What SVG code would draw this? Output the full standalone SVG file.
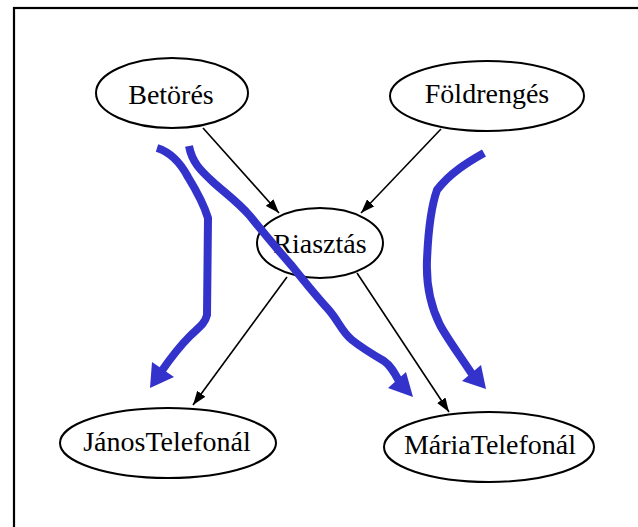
<svg xmlns="http://www.w3.org/2000/svg" width="638" height="527" viewBox="0 0 638 527">
  <style>
    .node ellipse { fill: #ffffff; stroke: #000000; stroke-width: 2; }
    .node text { font-family: "Liberation Serif", "Times New Roman", serif; font-size: 28px; fill: #000000; text-anchor: middle; }
    .edge { fill: none; stroke: #000000; stroke-width: 1.6; }
    .flow { fill: none; stroke: #3333cc; stroke-width: 8; stroke-linecap: butt; stroke-linejoin: round; }
    .flowhead { fill: #3333cc; }
  </style>
  <defs>
    <marker id="arrow" viewBox="0 0 14 10" refX="14" refY="5" markerWidth="14" markerHeight="10" markerUnits="userSpaceOnUse" orient="auto">
      <path d="M0,0 L14,5 L0,10 z" fill="#000000"/>
    </marker>
  </defs>

  <rect width="638" height="527" fill="#ffffff"/>
  <!-- frame -->
  <rect x="14" y="8" width="700" height="600" fill="none" stroke="#000000" stroke-width="2.2"/>

  <!-- connectors -->
  <g id="edges">
    <line class="edge" x1="203" y1="128" x2="279" y2="213" marker-end="url(#arrow)"/>
    <line class="edge" x1="441" y1="129" x2="361" y2="213" marker-end="url(#arrow)"/>
    <line class="edge" x1="287" y1="277" x2="193" y2="405" marker-end="url(#arrow)"/>
    <line class="edge" x1="357" y1="273" x2="449" y2="412" marker-end="url(#arrow)"/>
  </g>

  <!-- nodes -->
  <g id="betores" class="node">
    <ellipse cx="172" cy="93" rx="76" ry="35"/>
    <text x="171" y="104">Betörés</text>
  </g>
  <g id="foldrenges" class="node">
    <ellipse cx="487" cy="96" rx="97" ry="35"/>
    <text x="487" y="103">Földrengés</text>
  </g>
  <g id="riasztas" class="node">
    <ellipse cx="320" cy="243" rx="63" ry="35"/>
    <text x="320" y="253">Riasztás</text>
  </g>
  <g id="janos" class="node">
    <ellipse cx="168" cy="443" rx="108" ry="35"/>
    <text x="167" y="451">JánosTelefonál</text>
  </g>
  <g id="maria" class="node">
    <ellipse cx="489" cy="447" rx="105" ry="35"/>
    <text x="490" y="454">MáriaTelefonál</text>
  </g>

  <!-- hand-drawn influence strokes -->
  <g id="flows">
    <path class="flow" d="M157,148 C170,152 180,162 188,177 C196,190 204,205 208,218 L207,315 C205,324 198,328 190,336 C180,346 172,356 161,372"/>
    <polygon class="flowhead" points="150,388 152,362 174,377"/>

    <path class="flow" d="M189,146 C192,162 200,170 213,182 C225,193 238,202 250,216 C262,231 278,250 292,266 C304,281 316,296 328,309 C338,320 342,332 352,340 C362,348 372,354 384,361 C390,365 394,372 399,381"/>
    <polygon class="flowhead" points="413,397 388,388 406,372"/>

    <path class="flow" d="M484,153 C468,162 450,173 437,190 C430,210 428,235 427,260 C426,285 430,305 440,325 C447,338 456,350 472,374"/>
    <polygon class="flowhead" points="486,389 462,381 481,365"/>
  </g>
</svg>
